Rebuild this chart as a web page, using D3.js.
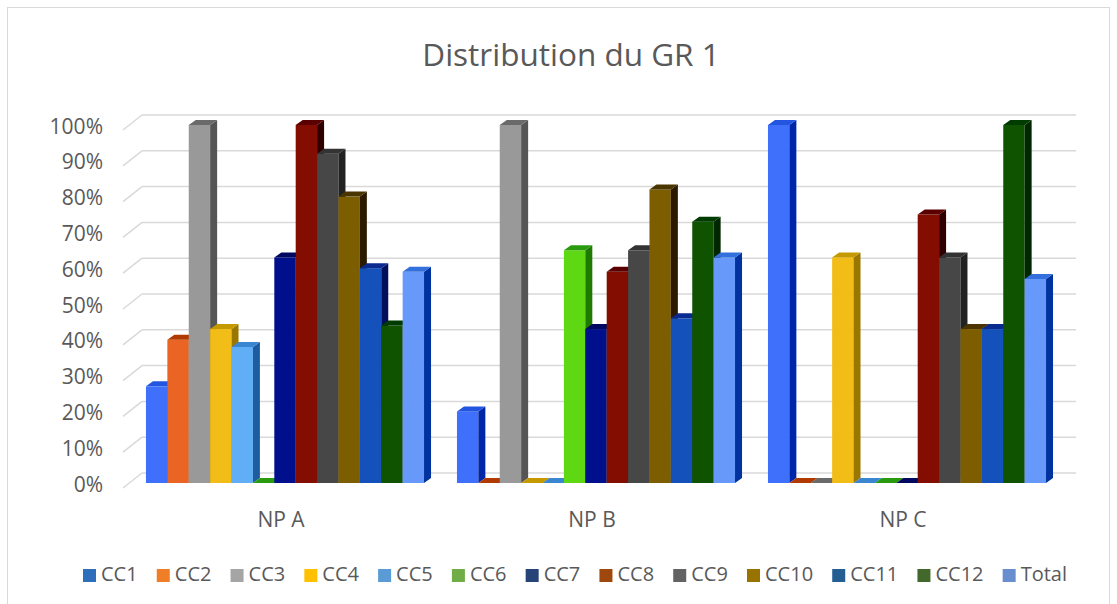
<!DOCTYPE html>
<html>
<head>
<meta charset="utf-8">
<script src="https://cdn.jsdelivr.net/npm/d3@7"></script>
<style>
  html, body { margin: 0; padding: 0; background: #fff; }
  svg { display: block; font-family: "Open Sans", "Noto Sans", sans-serif; }
</style>
</head>
<body>
<svg id="chart" width="1117" height="604"></svg>
<script>
// ---- data ----
const title = "Distribution du GR 1";
const categories = ["NP A", "NP B", "NP C"];
const seriesNames = ["CC1", "CC2", "CC3", "CC4", "CC5", "CC6", "CC7", "CC8", "CC9", "CC10", "CC11", "CC12", "Total"];
const CC1   = [0.27, 0.20, 1.00];
const CC2   = [0.40, 0.00, 0.00];
const CC3   = [1.00, 1.00, 0.00];
const CC4   = [0.43, 0.00, 0.63];
const CC5   = [0.38, 0.00, 0.00];
const CC6   = [0.00, 0.65, 0.00];
const CC7   = [0.63, 0.43, 0.00];
const CC8   = [1.00, 0.59, 0.75];
const CC9   = [0.92, 0.65, 0.63];
const CC10  = [0.80, 0.82, 0.43];
const CC11  = [0.60, 0.46, 0.43];
const CC12  = [0.44, 0.73, 1.00];
const Total = [0.59, 0.63, 0.57];
const seriesValues = [CC1, CC2, CC3, CC4, CC5, CC6, CC7, CC8, CC9, CC10, CC11, CC12, Total];
const yTicks = [0, 0.1, 0.2, 0.3, 0.4, 0.5, 0.6, 0.7, 0.8, 0.9, 1.0];

// ---- styles ----
const barColors = ["#3f70fb", "#ea6424", "#999999", "#f3bd17", "#60aff6", "#5fd814", "#00108c",
                   "#820d00", "#474747", "#7c5e00", "#1551bb", "#0f5300", "#6699fa"];
const sideColors = ["#0026a8", "#a83a00", "#555555", "#9a7800", "#1d5ca0", "#1f7a00", "#000a4d",
                    "#2e0000", "#222222", "#2b1a00", "#00105a", "#002700", "#0033a0"];
const topColors = ["#2255e0", "#b03a00", "#6a6a6a", "#c49a00", "#3a86d0", "#2a9a10", "#000860",
                   "#5a0000", "#333333", "#4a3500", "#0a2a90", "#003b00", "#3370dd"];
const legendColors = ["#2f6eba", "#f07e26", "#a5a5a5", "#ffc000", "#5b9bd5", "#70ad47", "#264478",
                      "#9e480e", "#636363", "#997300", "#255e91", "#43682b", "#698ed0"];
const textColor = "#595959";

const svg = d3.select("#chart");

// frame
svg.append("rect").attr("x", 7.5).attr("y", 7.5).attr("width", 1102).attr("height", 620)
  .attr("fill", "#fff").attr("stroke", "#d9d9d9").attr("stroke-width", 1);

// title
svg.append("text").attr("x", 571).attr("y", 66).attr("text-anchor", "middle")
  .attr("font-size", 31.5).attr("fill", textColor).text(title);

// scales
const y = d3.scaleLinear().domain([0, 1]).range([483, 125]);
const wallDy = -10;
const wallX0 = 123, wallX1 = 142, wallXEnd = 1076, diagDy = 15;
const x0 = d3.scaleBand().domain(categories).range([129.5, 1062.5]).paddingInner(0).paddingOuter(0);
const x1 = d3.scaleBand().domain(seriesNames).range([0, x0.bandwidth()]).paddingInner(0).paddingOuter(0.77);
const depthX = 7, depthY = -5;

// gridlines on back wall + side wall diagonals
const grid = svg.append("g");
yTicks.forEach(t => {
  const yb = y(t) + wallDy;
  grid.append("line").attr("x1", wallX1).attr("x2", wallXEnd).attr("y1", yb).attr("y2", yb)
    .attr("stroke", "#d9d9d9").attr("stroke-width", 1.5);
  grid.append("line").attr("x1", wallX0).attr("x2", wallX1).attr("y1", yb + diagDy).attr("y2", yb)
    .attr("stroke", "#d9d9d9").attr("stroke-width", 1.5);
});

// y tick labels
svg.append("g").selectAll("text").data(yTicks).join("text")
  .attr("x", 103).attr("y", d => y(d) + 3)
  .attr("text-anchor", "end").attr("dominant-baseline", "middle")
  .attr("font-size", 21).attr("fill", textColor)
  .text(d => d3.format(".0%")(d));

// bars (3D)
const bars = svg.append("g");
categories.forEach((cat, ci) => {
  seriesNames.forEach((s, si) => {
    const v = seriesValues[si][ci];
    const bx = x0(cat) + x1(s);
    const bw = x1.bandwidth();
    const yt = y(v), yb = y(0);
    const g = bars.append("g");
    if (v > 0) {
      g.append("rect").attr("x", bx).attr("y", yt).attr("width", bw).attr("height", yb - yt)
        .attr("fill", barColors[si]);
      g.append("path").attr("d",
        `M${bx + bw},${yt} L${bx + bw + depthX},${yt + depthY} L${bx + bw + depthX},${yb + depthY} L${bx + bw},${yb} Z`)
        .attr("fill", sideColors[si]);
    }
    g.append("path").attr("d",
      `M${bx},${yt} L${bx + depthX},${yt + depthY} L${bx + bw + depthX},${yt + depthY} L${bx + bw},${yt} Z`)
      .attr("fill", topColors[si]);
  });
});

// category labels
svg.append("g").selectAll("text").data(categories).join("text")
  .attr("x", d => x0(d) + x0.bandwidth() / 2 - 4).attr("y", 527)
  .attr("text-anchor", "middle").attr("font-size", 21).attr("fill", textColor)
  .text(d => d);

// legend
const legend = svg.append("g");
const items = seriesNames.map((s, i) => {
  const g = legend.append("g");
  g.append("rect").attr("width", 13).attr("height", 13).attr("y", -7).attr("fill", legendColors[i]);
  const t = g.append("text").attr("x", 18).attr("y", 0).attr("dominant-baseline", "middle")
    .attr("font-size", 20).attr("fill", textColor).text(s);
  return { g, w: 18 + t.node().getComputedTextLength() };
});
const legendStart = 83, legendEnd = 1067;
const totalW = d3.sum(items, d => d.w);
const gap = (legendEnd - legendStart - totalW) / (items.length - 1);
let cx = legendStart;
items.forEach(it => {
  it.g.attr("transform", `translate(${cx},576)`);
  cx += it.w + gap;
});
</script>
</body>
</html>
